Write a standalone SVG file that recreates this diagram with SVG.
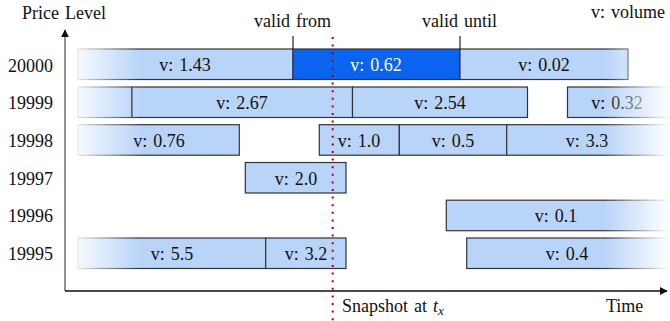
<svg xmlns="http://www.w3.org/2000/svg" width="670" height="321" viewBox="0 0 670 321">
<defs>
<style>
text{font-family:"Liberation Serif","Times New Roman",serif;font-size:18px;fill:#111;word-spacing:1.5px}
.lbl{text-anchor:end}
.c{text-anchor:middle}
.b{fill:#b9d4f9;stroke:#333;stroke-width:1.2}
.d{fill:#0a64ef;stroke:#333;stroke-width:1.2}
.w{fill:#fff}
.ax{stroke:#111;stroke-width:1.3;fill:none}
</style>
<marker id="ah" viewBox="0 0 10 10" refX="9" refY="5" markerWidth="8" markerHeight="8" markerUnits="userSpaceOnUse" orient="auto">
<path d="M0,0 L10,5 L0,10 z" fill="#111"/>
</marker>
<linearGradient id="fl" gradientUnits="userSpaceOnUse" x1="76" y1="0" x2="140" y2="0">
<stop offset="0" stop-color="#fff" stop-opacity="0.9"/>
<stop offset="1" stop-color="#fff" stop-opacity="0"/>
</linearGradient>
<linearGradient id="fr" gradientUnits="userSpaceOnUse" x1="604" y1="0" x2="670" y2="0">
<stop offset="0" stop-color="#fff" stop-opacity="0"/>
<stop offset="1" stop-color="#fff" stop-opacity="1"/>
</linearGradient>
</defs>
<rect width="670" height="321" fill="#fff"/>

<g id="labels">
<text x="22" y="19">Price Level</text>
<text x="254" y="27">valid from</text>
<text x="422" y="27">valid until</text>
<text x="591" y="18">v: volume</text>
<text x="606" y="311.5">Time</text>
<text x="342" y="311.5">Snapshot at <tspan font-style="italic">t</tspan><tspan font-style="italic" font-size="13" dy="3">x</tspan></text>
</g>

<g id="price-labels">
<text class="lbl" x="53" y="71.5">20000</text>
<text class="lbl" x="53" y="109">19999</text>
<text class="lbl" x="53" y="147">19998</text>
<text class="lbl" x="53" y="184.5">19997</text>
<text class="lbl" x="53" y="222">19996</text>
<text class="lbl" x="53" y="260">19995</text>
</g>

<g id="row-20000">
<rect class="b" x="78" y="49" width="215" height="30.5"/>
<text class="c" x="185" y="71">v: 1.43</text>
<rect class="d" x="293" y="49" width="167" height="30.5"/>
<text class="c w" x="376" y="71">v: 0.62</text>
<rect class="b" x="460" y="49" width="168" height="30.5"/>
<text class="c" x="544" y="71">v: 0.02</text>
</g>

<g id="row-19999">
<rect class="b" x="78" y="87" width="54" height="30.5"/>
<rect class="b" x="132" y="87" width="220.5" height="30.5"/>
<text class="c" x="242" y="109">v: 2.67</text>
<rect class="b" x="352.5" y="87" width="175" height="30.5"/>
<text class="c" x="440" y="109">v: 2.54</text>
<rect class="b" x="567.5" y="87" width="102" height="30.5"/>
<text class="c" x="617" y="109">v: 0.32</text>
</g>

<g id="row-19998">
<rect class="b" x="78" y="124.7" width="161.3" height="30.5"/>
<text class="c" x="159" y="147">v: 0.76</text>
<rect class="b" x="319.3" y="124.7" width="80" height="30.5"/>
<text class="c" x="359" y="147">v: 1.0</text>
<rect class="b" x="399.3" y="124.7" width="107.4" height="30.5"/>
<text class="c" x="453" y="147">v: 0.5</text>
<rect class="b" x="506.7" y="124.7" width="163" height="30.5"/>
<text class="c" x="587" y="147">v: 3.3</text>
</g>

<g id="row-19997">
<rect class="b" x="245.3" y="162.5" width="100.7" height="30.5"/>
<text class="c" x="296" y="184.5">v: 2.0</text>
</g>

<g id="row-19996">
<rect class="b" x="446.3" y="200.2" width="223" height="30.5"/>
<text class="c" x="556" y="222">v: 0.1</text>
</g>

<g id="row-19995">
<rect class="b" x="78" y="238" width="187.7" height="30.5"/>
<text class="c" x="172" y="260">v: 5.5</text>
<rect class="b" x="265.7" y="238" width="80.3" height="30.5"/>
<text class="c" x="306" y="260">v: 3.2</text>
<rect class="b" x="466.7" y="238" width="203" height="30.5"/>
<text class="c" x="567" y="260">v: 0.4</text>
</g>

<g id="fades">
<rect x="76" y="46" width="64" height="225" fill="url(#fl)"/>
<rect x="604" y="46" width="66" height="225" fill="url(#fr)"/>
</g>

<g id="connectors">
<line class="ax" x1="65" y1="291" x2="65" y2="30" style="stroke:#555" marker-end="url(#ah)"/>
<line class="ax" x1="65" y1="291" x2="667" y2="291" marker-end="url(#ah)"/>
<line x1="293" y1="36" x2="293" y2="49" stroke="#222" stroke-width="1.2"/>
<line x1="460" y1="36" x2="460" y2="49" stroke="#222" stroke-width="1.2"/>
<line x1="332.7" y1="37" x2="332.7" y2="321" stroke="#b00000" stroke-width="2" stroke-dasharray="2 5.6"/>
</g>
</svg>
